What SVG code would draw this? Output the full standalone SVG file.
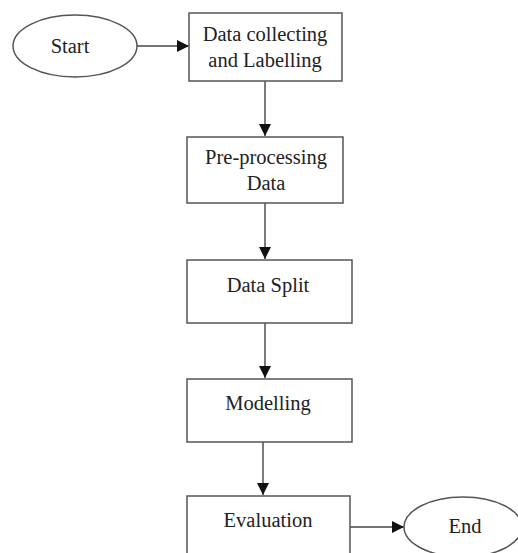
<svg xmlns="http://www.w3.org/2000/svg" width="518" height="553" viewBox="0 0 518 553">
<defs>
<style>
.shape{fill:#fff;stroke:#555;stroke-width:1.5}
.line{stroke:#444;stroke-width:1.4;fill:none}
text{font-family:"Liberation Serif","Times New Roman",serif;font-size:20.5px;fill:#222;text-anchor:middle}
</style>
<marker id="arr" viewBox="0 0 10 10" refX="10" refY="5" markerWidth="12" markerHeight="12" markerUnits="userSpaceOnUse" orient="auto">
<path d="M0,0 L10,5 L0,10 Z" fill="#111"/>
</marker>
</defs>
<rect width="518" height="553" fill="#fff"/>
<g id="connectors">
<line class="line" x1="137" y1="46" x2="189" y2="46" marker-end="url(#arr)"/>
<line class="line" x1="265" y1="81" x2="265" y2="136" marker-end="url(#arr)"/>
<line class="line" x1="265" y1="203" x2="265" y2="259" marker-end="url(#arr)"/>
<line class="line" x1="265" y1="323" x2="265" y2="378" marker-end="url(#arr)"/>
<line class="line" x1="263" y1="442" x2="263" y2="495" marker-end="url(#arr)"/>
<line class="line" x1="350" y1="527" x2="404" y2="527" marker-end="url(#arr)"/>
</g>
<g id="start">
<ellipse class="shape" cx="75" cy="46" rx="62" ry="31"/>
<text x="70" y="53">Start</text>
</g>
<g id="collect">
<rect class="shape" x="189" y="13" width="153" height="68"/>
<text x="265" y="41">Data collecting</text>
<text x="265" y="67">and Labelling</text>
</g>
<g id="preprocess">
<rect class="shape" x="187" y="137" width="156" height="66"/>
<text x="266" y="164">Pre-processing</text>
<text x="266" y="190">Data</text>
</g>
<g id="split">
<rect class="shape" x="187" y="260" width="165" height="63"/>
<text x="268" y="292">Data Split</text>
</g>
<g id="modelling">
<rect class="shape" x="187" y="379" width="165" height="63"/>
<text x="268" y="410">Modelling</text>
</g>
<g id="evaluation">
<rect class="shape" x="187" y="496" width="163" height="70"/>
<text x="268" y="527">Evaluation</text>
</g>
<g id="end">
<ellipse class="shape" cx="463" cy="527" rx="59" ry="30"/>
<text x="465" y="533">End</text>
</g>
</svg>
